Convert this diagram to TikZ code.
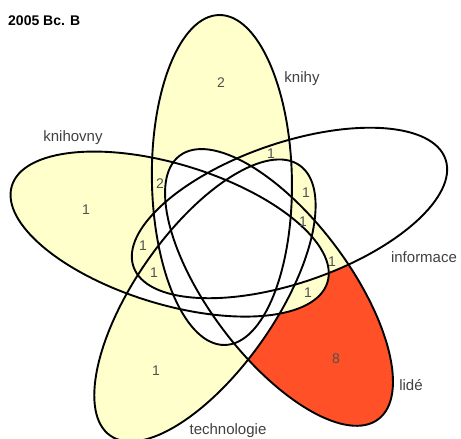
\documentclass[tikz,border=0pt]{standalone}
\usepackage{fontspec}
\setmainfont{Liberation Sans}
\definecolor{vy}{RGB}{255,255,204}
\definecolor{vr}{RGB}{255,80,40}
\definecolor{numc}{RGB}{80,80,80}
\definecolor{labc}{RGB}{64,64,64}
\newcommand\inE[1]{\clip[E=#1] (0,0) ellipse (70pt and 165pt);}
\newcommand\outE[1]{\clip[E=#1] (-3000,-3000) -- (-3000,3000) -- (3000,3000) -- (3000,-3000) -- cycle (70pt,0pt) arc[start angle=0,end angle=360,x radius=70pt,y radius=165pt] -- cycle;}
\begin{document}
\begin{tikzpicture}[x=1pt,y=1pt,
  E/.style={shift={(233,196)},rotate=-72*#1,shift={(-11.1,63)},rotate=1},
  outline/.style={draw=black,line width=1.9pt},
  num/.style={text=numc,font=\fontsize{14}{14}\selectfont,inner sep=0pt},
  lab/.style={text=labc,font=\fontsize{15}{15}\selectfont,inner sep=0pt}]
\useasboundingbox (0,0) rectangle (461,439);
% E=0 knihy, 1 informace, 2 lide, 3 technologie, 4 knihovny
% knihy only
\begin{scope}\inE{0}\outE{1}\outE{2}\outE{3}\outE{4}\fill[vy] (0,0) rectangle (461,439);\end{scope}
% knihovny only
\begin{scope}\inE{4}\outE{0}\outE{1}\outE{2}\outE{3}\fill[vy] (0,0) rectangle (461,439);\end{scope}
% technologie only
\begin{scope}\inE{3}\outE{0}\outE{1}\outE{2}\outE{4}\fill[vy] (0,0) rectangle (461,439);\end{scope}
% lide only
\begin{scope}\inE{2}\outE{0}\outE{1}\outE{3}\outE{4}\fill[vr] (0,0) rectangle (461,439);\end{scope}
% knihy & knihovny
\begin{scope}\inE{0}\inE{4}\outE{1}\outE{2}\outE{3}\fill[vy] (0,0) rectangle (461,439);\end{scope}
% knihy & informace
\begin{scope}\inE{0}\inE{1}\outE{2}\outE{3}\outE{4}\fill[vy] (0,0) rectangle (461,439);\end{scope}
% informace & technologie
\begin{scope}\inE{1}\inE{3}\outE{0}\outE{2}\outE{4}\fill[vy] (0,0) rectangle (461,439);\end{scope}
% informace & lide & technologie
\begin{scope}\inE{1}\inE{2}\inE{3}\outE{0}\outE{4}\fill[vy] (0,0) rectangle (461,439);\end{scope}
% informace & lide
\begin{scope}\inE{1}\inE{2}\outE{0}\outE{3}\outE{4}\fill[vy] (0,0) rectangle (461,439);\end{scope}
% lide & knihovny
\begin{scope}\inE{2}\inE{4}\outE{0}\outE{1}\outE{3}\fill[vy] (0,0) rectangle (461,439);\end{scope}
% informace & knihovny
\begin{scope}\inE{1}\inE{4}\outE{0}\outE{2}\outE{3}\fill[vy] (0,0) rectangle (461,439);\end{scope}
% informace & technologie & knihovny
\begin{scope}\inE{1}\inE{3}\inE{4}\outE{0}\outE{2}\fill[vy] (0,0) rectangle (461,439);\end{scope}
% outlines
\draw[E=0,outline] (0,0) ellipse (70pt and 165pt);
\draw[E=1,outline] (0,0) ellipse (70pt and 165pt);
\draw[E=2,outline] (0,0) ellipse (70pt and 165pt);
\draw[E=3,outline] (0,0) ellipse (70pt and 165pt);
\draw[E=4,outline] (0,0) ellipse (70pt and 165pt);
% counts
\node[num] (n1) at (221,439-83) {2};
\node[num] (n2) at (86,439-210) {1};
\node[num] (n3) at (160,439-184) {2};
\node[num] (n4) at (271,439-154) {1};
\node[num] (n5) at (306,439-193) {1};
\node[num] (n6) at (303,439-221.5) {1};
\node[num] (n7) at (332,439-262) {1};
\node[num] (n8) at (308,439-293) {1};
\node[num] (n9) at (143,439-246) {1};
\node[num] (n10) at (154,439-272.5) {1};
\node[num] (n11) at (156,439-371) {1};
\node[num] (n12) at (336,439-359) {8};
% set labels
\node[lab] (k1) at (302,439-79) {knihy};
\node[lab] (k2) at (73,439-138) {knihovny};
\node[lab] (k3) at (424,439-257) {informace};
\node[lab] (k4) at (411,439-385) {lidé};
\node[lab] (k5) at (228,439-431) {technologie};
\node[anchor=west,inner sep=0pt,font=\fontsize{14}{14}\selectfont\bfseries] (t) at (8,439-20.5) {2005 Bc. B};
\end{tikzpicture}
\end{document}
